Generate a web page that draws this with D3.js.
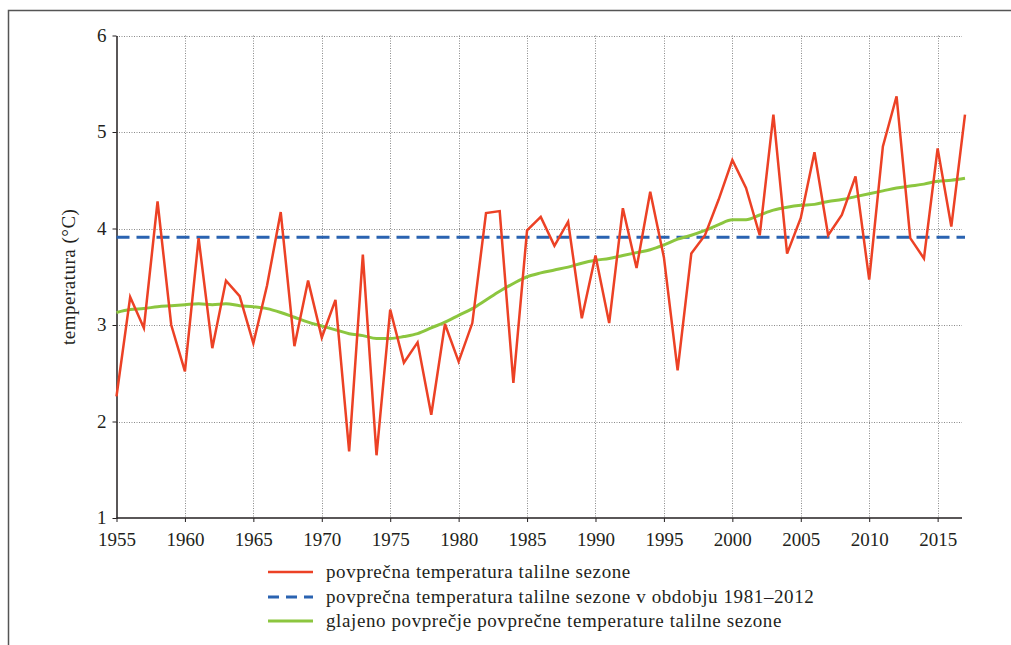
<!DOCTYPE html>
<html>
<head>
<meta charset="utf-8">
<script src="https://cdn.jsdelivr.net/npm/d3@7"></script>
<style>
  body { margin: 0; background: #fff; }
</style>
</head>
<body>
<svg id="chart" width="1011" height="645"></svg>
<script>
const years = d3.range(1955, 2018);
const meanTemp = [
  2.26, 3.29, 2.97, 4.28, 3.00, 2.52, 3.90, 2.76, 3.46, 3.30,
  2.81, 3.41, 4.17, 2.78, 3.46, 2.87, 3.26, 1.69, 3.73, 1.65,
  3.16, 2.61, 2.82, 2.07, 3.01, 2.62, 3.02, 4.16, 4.18, 2.40,
  3.98, 4.12, 3.82, 4.07, 3.07, 3.72, 3.02, 4.21, 3.59, 4.38,
  3.70, 2.53, 3.74, 3.93, 4.30, 4.71, 4.42, 3.93, 5.18, 3.74,
  4.11, 4.79, 3.93, 4.14, 4.54, 3.47, 4.85, 5.37, 3.90, 3.69,
  4.83, 4.02, 5.18
];
const smoothTemp = [
  3.13, 3.16, 3.17, 3.19, 3.20, 3.21, 3.22, 3.21, 3.22, 3.20,
  3.19, 3.17, 3.13, 3.08, 3.03, 2.99, 2.95, 2.91, 2.89, 2.86,
  2.86, 2.88, 2.91, 2.97, 3.03, 3.10, 3.17, 3.26, 3.35, 3.43,
  3.50, 3.54, 3.57, 3.60, 3.64, 3.67, 3.69, 3.72, 3.75, 3.78,
  3.83, 3.89, 3.93, 3.98, 4.04, 4.09, 4.09, 4.14, 4.19, 4.22,
  4.24, 4.25, 4.28, 4.30, 4.33, 4.36, 4.39, 4.42, 4.44, 4.46,
  4.49, 4.50, 4.52
];
const refMean = 3.91;
const xTicks = [1955, 1960, 1965, 1970, 1975, 1980, 1985, 1990, 1995, 2000, 2005, 2010, 2015];
const yTicks = [1, 2, 3, 4, 5, 6];
const legendLabels = [
  "povprečna temperatura talilne sezone",
  "povprečna temperatura talilne sezone v obdobju 1981–2012",
  "glajeno povprečje povprečne temperature talilne sezone"
];
const colors = { red: "#ec4125", blue: "#2a63b1", green: "#8cc63f" };
const FONT = "'Liberation Serif', 'Times New Roman', 'DejaVu Serif', serif";
const TXT = "#231f20";

const svg = d3.select("#chart").style("font-family", FONT);

// frame
svg.append("path")
  .attr("d", "M8.5,645 L8.5,10.5 L1011,10.5")
  .attr("fill", "none").attr("stroke", "#555").attr("stroke-width", 1.5);

const x = d3.scaleLinear().domain([1955, 2017]).range([116.5, 965]);
const y = d3.scaleLinear().domain([1, 6]).range([518, 35.5]);
const gridRight = 962;

// gridlines
const grid = svg.append("g");
grid.selectAll(".hg").data(yTicks.filter(d => d > 1)).enter().append("line")
  .attr("x1", x(1955)).attr("x2", gridRight)
  .attr("y1", d => Math.round(y(d)) + 0.5).attr("y2", d => Math.round(y(d)) + 0.5)
  .attr("stroke", "#8a8a8a").attr("stroke-width", 1).attr("stroke-dasharray", "1,1.5");
grid.selectAll(".vg").data(xTicks.filter(d => d > 1955)).enter().append("line")
  .attr("x1", d => Math.round(x(d)) + 0.5).attr("x2", d => Math.round(x(d)) + 0.5)
  .attr("y1", y(6)).attr("y2", y(1))
  .attr("stroke", "#8a8a8a").attr("stroke-width", 1).attr("stroke-dasharray", "1,1.5");

// axes
const xAxis = d3.axisBottom(x).tickValues(xTicks).tickFormat(d3.format("d")).tickSize(4).tickSizeOuter(0);
const gx = svg.append("g").attr("transform", `translate(0,${y(1)})`).call(xAxis)
  .attr("font-family", null).attr("font-size", null);
gx.select(".domain").attr("stroke", TXT).attr("stroke-width", 1.5)
  .attr("d", `M${x(1955)},0H${gridRight}`);
gx.selectAll(".tick line").attr("stroke", TXT);
gx.selectAll(".tick text").style("font-size", "19px").attr("dy", "0").attr("y", 28)
  .style("font-family", FONT).attr("fill", TXT);

const yAxis = d3.axisLeft(y).tickValues(yTicks).tickFormat(d3.format("d")).tickSize(4).tickSizeOuter(0);
const gy = svg.append("g").attr("transform", `translate(${x(1955)},0)`).call(yAxis)
  .attr("font-family", null).attr("font-size", null);
gy.select(".domain").attr("stroke", TXT).attr("stroke-width", 1.5);
gy.selectAll(".tick line").attr("stroke", TXT);
gy.selectAll(".tick text").style("font-size", "19px").attr("x", -10).attr("dy", "0.3em")
  .style("font-family", FONT).attr("fill", TXT);

// y label
svg.append("text")
  .attr("transform", `translate(75,${(y(1) + y(6)) / 2}) rotate(-90)`)
  .attr("text-anchor", "middle").style("font-size", "19px").style("letter-spacing", "0.5px")
  .style("font-family", FONT).attr("fill", TXT)
  .text("temperatura (°C)");

// reference mean dashed line
svg.append("line")
  .attr("x1", x(1955)).attr("x2", x(2017))
  .attr("y1", y(refMean)).attr("y2", y(refMean))
  .attr("stroke", colors.blue).attr("stroke-width", 3).attr("stroke-dasharray", "13,7");

// smoothed line
const line = d3.line().x((d, i) => x(years[i])).y(d => y(d)).curve(d3.curveMonotoneX);
svg.append("path").datum(smoothTemp).attr("d", line)
  .attr("fill", "none").attr("stroke", colors.green).attr("stroke-width", 3);

// mean temperature line
const line2 = d3.line().x((d, i) => x(years[i])).y(d => y(d));
svg.append("path").datum(meanTemp).attr("d", line2)
  .attr("fill", "none").attr("stroke", colors.red).attr("stroke-width", 2.5)
  .attr("stroke-linejoin", "miter");

// legend
const legend = svg.append("g");
const legY = [572, 597, 621];
const styles = [
  { c: colors.red, dash: null, w: 2.5 },
  { c: colors.blue, dash: "11,7", w: 3 },
  { c: colors.green, dash: null, w: 3 }
];
legendLabels.forEach((lab, i) => {
  legend.append("line").attr("x1", 268).attr("x2", 313)
    .attr("y1", legY[i]).attr("y2", legY[i])
    .attr("stroke", styles[i].c).attr("stroke-width", styles[i].w)
    .attr("stroke-dasharray", styles[i].dash);
  legend.append("text").attr("x", 326).attr("y", legY[i]).attr("dy", "0.3em")
    .style("font-size", "19px").style("letter-spacing", "0.6px")
    .style("font-family", FONT).attr("fill", TXT).text(lab);
});
</script>
</body>
</html>
